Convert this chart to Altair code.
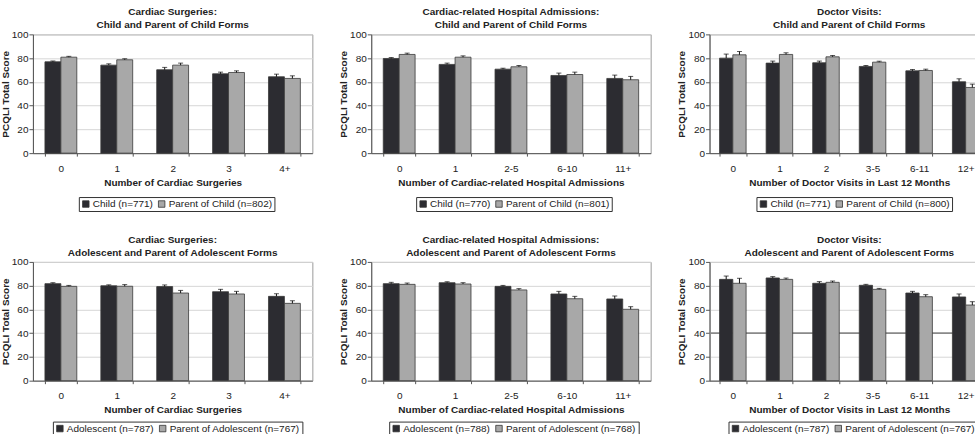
import altair as alt
import pandas as pd

# ---- categories -------------------------------------------------------------
surgery_cats = ["0", "1", "2", "3", "4+"]
admission_cats = ["0", "1", "2-5", "6-10", "11+"]
visit_cats = ["0", "1", "2", "3-5", "6-11", "12+"]

# ---- child / parent-of-child forms -----------------------------------------
child_series = ["Child (n=771)", "Parent of Child (n=802)"]
child_surg = [76.9, 74.1, 70.2, 66.8, 64.3]
child_surg_err = [0.7, 1.1, 2.0, 1.4, 2.2]
parent_child_surg = [80.8, 78.6, 74.1, 67.9, 62.9]
parent_child_surg_err = [0.7, 0.9, 1.7, 1.4, 2.2]

child_adm_series = ["Child (n=770)", "Parent of Child (n=801)"]
child_adm = [79.7, 74.7, 70.7, 65.4, 62.9]
child_adm_err = [0.8, 1.1, 0.8, 2.0, 2.8]
parent_child_adm = [83.1, 80.8, 72.7, 66.2, 61.8]
parent_child_adm_err = [1.1, 1.1, 1.1, 2.0, 2.8]

child_visit_series = ["Child (n=771)", "Parent of Child (n=800)"]
child_visit = [80.0, 75.8, 76.1, 73.0, 69.3, 60.1]
child_visit_err = [3.4, 1.7, 1.4, 0.8, 1.1, 2.5]
parent_child_visit = [82.8, 83.1, 81.1, 76.6, 69.6, 55.3]
parent_child_visit_err = [2.8, 1.4, 1.1, 0.8, 1.1, 2.8]

# ---- adolescent / parent-of-adolescent forms --------------------------------
adol_surg_series = ["Adolescent (n=787)", "Parent of Adolescent (n=767)"]
adol_surg = [81.7, 79.9, 79.2, 74.9, 71.0]
adol_surg_err = [0.8, 0.8, 1.4, 2.0, 2.2]
parent_adol_surg = [79.4, 79.5, 73.8, 73.0, 65.1]
parent_adol_surg_err = [0.8, 1.4, 2.2, 2.2, 2.2]

adol_adm_series = ["Adolescent (n=788)", "Parent of Adolescent (n=768)"]
adol_adm = [81.7, 82.5, 79.4, 73.0, 68.8]
adol_adm_err = [1.1, 0.8, 0.8, 2.2, 2.5]
parent_adol_adm = [81.1, 81.4, 76.4, 69.0, 60.1]
parent_adol_adm_err = [1.1, 1.1, 1.1, 2.0, 2.2]

adol_visit_series = ["Adolescent (n=787)", "Parent of Adolescent (n=767)"]
adol_visit = [85.3, 86.5, 82.0, 80.3, 73.8, 70.5]
adol_visit_err = [2.8, 1.1, 1.4, 0.8, 1.4, 2.5]
parent_adol_visit = [82.0, 85.3, 82.8, 76.9, 70.7, 63.7]
parent_adol_visit_err = [4.2, 1.1, 1.1, 0.8, 1.7, 2.8]
adol_visit_refline = [40]

y_ticks = [0, 20, 40, 60, 80, 100]

DARK = "#2c2c31"
LIGHT = "#a8a8a8"
FONT = "Liberation Sans"
TEXT = "#222222"


def panel(title, cats, series, v1, e1, v2, e2, xtitle, legend_x, legend_y, refline=None):
    rows = []
    for s, vals, errs in ((series[0], v1, e1), (series[1], v2, e2)):
        for c, v, e in zip(cats, vals, errs):
            rows.append({"cat": c, "series": s, "score": v, "upper": v + e})
    df = pd.DataFrame(rows)

    xscale = alt.Scale(domain=cats, paddingInner=0.43, paddingOuter=0.215)
    xaxis = alt.Axis(labelAngle=0, tickBand="extent", tickSize=3, labelPadding=7,
                     titlePadding=4, grid=False)
    yscale = alt.Scale(domain=[0, 100], nice=False)
    yaxis = alt.Axis(values=y_ticks, tickSize=4, labelPadding=1, titlePadding=1,
                     grid=True, gridColor="#d6d6d6")
    x = alt.X("cat:N", scale=xscale, axis=xaxis, title=xtitle, sort=cats)
    xo = alt.XOffset("series:N", sort=series,
                     scale=alt.Scale(domain=series, paddingInner=0, paddingOuter=0))

    base = alt.Chart(df)
    bars = base.mark_bar(stroke="#3a3a3a", strokeWidth=0.8).encode(
        x=x,
        xOffset=xo,
        y=alt.Y("score:Q", scale=yscale, axis=yaxis, title="PCQLI Total Score"),
        color=alt.Color(
            "series:N",
            sort=series,
            scale=alt.Scale(domain=series, range=[DARK, LIGHT]),
            legend=alt.Legend(
                title=None, orient="none", legendX=legend_x, legendY=legend_y,
                direction="horizontal", symbolType="square", symbolSize=42,
                symbolStrokeColor="#333333", symbolStrokeWidth=0.8,
                labelFont=FONT, labelFontSize=10, labelColor=TEXT,
                labelOffset=2, columnPadding=3, padding=2,
                strokeColor="#333333", fillColor="white",
            ),
        ),
    )
    whisker = base.mark_rule(color="#111111", strokeWidth=1).encode(
        x=x, xOffset=xo,
        y=alt.Y("score:Q", scale=yscale, axis=yaxis, title="PCQLI Total Score"),
        y2="upper:Q",
    )
    cap = base.mark_tick(color="#111111", thickness=1, size=5).encode(
        x=x, xOffset=xo,
        y=alt.Y("upper:Q", scale=yscale, axis=yaxis, title="PCQLI Total Score"),
    )
    layers = [bars, whisker, cap]
    if refline is not None:
        ref = alt.Chart(pd.DataFrame({"level": refline})).mark_rule(
            color="#8a8a8a", strokeWidth=1.6
        ).encode(y=alt.Y("level:Q", scale=yscale, axis=yaxis, title="PCQLI Total Score"))
        layers = [ref] + layers
    return alt.layer(*layers).properties(
        width=280,
        height=119,
        title=alt.Title(title, font=FONT, fontSize=10, fontWeight="bold", color=TEXT,
                        anchor="middle", lineHeight=13, offset=-1),
    )


top = alt.hconcat(
    panel(["Cardiac Surgeries:", "Child and Parent of Child Forms"], surgery_cats,
          child_series, child_surg, child_surg_err, parent_child_surg, parent_child_surg_err,
          "Number of Cardiac Surgeries", 46, 163),
    panel(["Cardiac-related Hospital Admissions:", "Child and Parent of Child Forms"], admission_cats,
          child_adm_series, child_adm, child_adm_err, parent_child_adm, parent_child_adm_err,
          "Number of Cardiac-related Hospital Admissions", 45, 163),
    panel(["Doctor Visits:", "Child and Parent of Child Forms"], visit_cats,
          child_visit_series, child_visit, child_visit_err, parent_child_visit, parent_child_visit_err,
          "Number of Doctor Visits in Last 12 Months", 47, 163),
    spacing=24,
).resolve_scale(color="independent", x="independent", y="independent", xOffset="independent")

bottom = alt.hconcat(
    panel(["Cardiac Surgeries:", "Adolescent and Parent of Adolescent Forms"], surgery_cats,
          adol_surg_series, adol_surg, adol_surg_err, parent_adol_surg, parent_adol_surg_err,
          "Number of Cardiac Surgeries", 20, 160),
    panel(["Cardiac-related Hospital Admissions:", "Adolescent and Parent of Adolescent Forms"], admission_cats,
          adol_adm_series, adol_adm, adol_adm_err, parent_adol_adm, parent_adol_adm_err,
          "Number of Cardiac-related Hospital Admissions", 18, 160),
    panel(["Doctor Visits:", "Adolescent and Parent of Adolescent Forms"], visit_cats,
          adol_visit_series, adol_visit, adol_visit_err, parent_adol_visit, parent_adol_visit_err,
          "Number of Doctor Visits in Last 12 Months", 19, 160, refline=adol_visit_refline),
    spacing=24,
).resolve_scale(color="independent", x="independent", y="independent", xOffset="independent")

# The page is narrower than the full grid: negative padding trims the right
# column and the bottom edge of the lower legends.
chart = alt.vconcat(top, bottom, spacing=22).resolve_scale(
    color="independent", x="independent", y="independent", xOffset="independent"
).properties(
    padding={"left": -1, "top": 6, "right": -16, "bottom": -2},
    background="white",
).configure_view(
    stroke="#9a9a9a", strokeWidth=1
).configure_axis(
    labelFont=FONT, labelFontSize=10, labelColor=TEXT,
    titleFont=FONT, titleFontSize=10, titleFontWeight="bold", titleColor=TEXT,
    domainColor="#555555", tickColor="#555555",
)

chart.save("out.html", embed_options={"renderer": "svg", "actions": False})
